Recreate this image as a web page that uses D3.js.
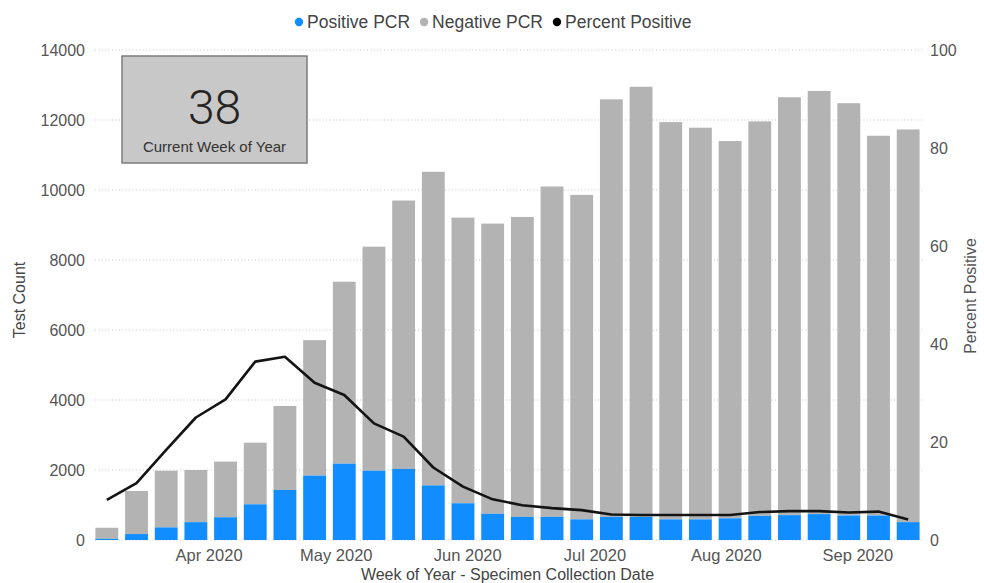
<!DOCTYPE html>
<html>
<head>
<meta charset="utf-8">
<script src="https://cdn.jsdelivr.net/npm/d3@7"></script>
<style>
	body { margin: 0; background: #fff; }
	text { font-family: 'Liberation Sans', Arial, sans-serif; }
</style>
</head>
<body>
<div id="chart"></div>
<script>
// week numbers (Sunday start), 2020
var weeks = [11, 12, 13, 14, 15, 16, 17, 18, 19, 20, 21, 22, 23, 24,
	25, 26, 27, 28, 29, 30, 31, 32, 33, 34, 35, 36, 37, 38];
var positive = [35, 170, 360, 510, 650, 1020, 1430, 1840, 2180, 1980, 2030, 1560, 1050, 750,
	660, 660, 590, 660, 660, 590, 590, 620, 690, 710, 740, 700, 700, 510];
var negative = [315, 1230, 1620, 1490, 1590, 1760, 2400, 3870, 5200, 6400, 7670, 8960, 8160, 8290,
	8570, 9440, 9270, 11930, 12290, 11350, 11190, 10780, 11270, 11940, 12090, 11780, 10850, 11220];
var percentPositive = [8.2, 11.6, 18.4, 25.0, 28.7, 36.4, 37.4, 32.1, 29.6, 23.8, 21.1, 14.8, 10.9, 8.3,
	7.1, 6.5, 6.1, 5.2, 5.1, 5.1, 5.1, 5.1, 5.7, 5.9, 5.9, 5.6, 5.8, 4.2];
var countTicks = [0, 2000, 4000, 6000, 8000, 10000, 12000, 14000];
var percentTicks = [0, 20, 40, 60, 80, 100];
var legendItems = ['Positive PCR', 'Negative PCR', 'Percent Positive'];

const WIDTH = 984;
const HEIGHT = 583;
const PLOT = { LEFT: 92, RIGHT: 923, TOP: 50, BOTTOM: 540 };
const COLORS = { pos: '#118DFF', neg: '#B3B3B3', line: '#141414' };

// Sunday of week 2 is Jan 5 2020
var week2 = new Date(Date.UTC(2020, 0, 5));
function weekDate (w) { return d3.utcWeek.offset(week2, w - 2); }

var data = weeks.map(function (w, i) {
	return { week: w, date: weekDate(w), pos: positive[i], neg: negative[i], pct: percentPositive[i] };
});

var half = 3.5 * 24 * 3600 * 1000;
var x = d3.scaleUtc()
	.domain([new Date(data[0].date - half), new Date(+data[data.length - 1].date + half)])
	.range([PLOT.LEFT, PLOT.RIGHT]);
var yCount = d3.scaleLinear().domain([0, 14000]).range([PLOT.BOTTOM, PLOT.TOP]);
var yPct = d3.scaleLinear().domain([0, 100]).range([PLOT.BOTTOM, PLOT.TOP]);
var step = x(data[1].date) - x(data[0].date);
var barW = step * 0.77;

var svg = d3.select('#chart').append('svg')
	.attr('width', WIDTH)
	.attr('height', HEIGHT);

// gridlines
svg.append('g').selectAll('line').data(countTicks).enter().append('line')
	.attr('x1', PLOT.LEFT + 3).attr('x2', PLOT.RIGHT)
	.attr('y1', function (d) { return yCount(d); })
	.attr('y2', function (d) { return yCount(d); })
	.style('stroke', '#c4c4c4')
	.style('stroke-width', 1)
	.style('stroke-dasharray', '1,2.4');

// left axis
var yAxisL = d3.axisLeft(yCount).tickValues(countTicks).tickFormat(d3.format('d')).tickSize(0).tickPadding(7);
var gL = svg.append('g').attr('transform', 'translate(' + PLOT.LEFT + ',0)').call(yAxisL);
// right axis
var yAxisR = d3.axisRight(yPct).tickValues(percentTicks).tickSize(0).tickPadding(7);
var gR = svg.append('g').attr('transform', 'translate(' + PLOT.RIGHT + ',0)').call(yAxisR);
// bottom axis
var xAxis = d3.axisBottom(x).ticks(d3.utcMonth.every(1)).tickFormat(d3.utcFormat('%b %Y')).tickSize(0).tickPadding(9);
var gX = svg.append('g').attr('transform', 'translate(0,' + PLOT.BOTTOM + ')').call(xAxis);

[gL, gR, gX].forEach(function (g) {
	g.select('.domain').remove();
	g.selectAll('text').attr('fill', '#555').style('font-size', '16px');
});
gX.selectAll('text').style('font-size', '16.5px');

// bars
var bars = svg.append('g').selectAll('g').data(data).enter().append('g');
bars.append('rect')
	.attr('x', function (d) { return x(d.date) - barW / 2; })
	.attr('width', barW)
	.attr('y', function (d) { return yCount(d.pos + d.neg); })
	.attr('height', function (d) { return yCount(d.pos) - yCount(d.pos + d.neg); })
	.attr('fill', COLORS.neg);
bars.append('rect')
	.attr('x', function (d) { return x(d.date) - barW / 2; })
	.attr('width', barW)
	.attr('y', function (d) { return yCount(d.pos); })
	.attr('height', function (d) { return yCount(0) - yCount(d.pos); })
	.attr('fill', COLORS.pos);

// percent positive line
var line = d3.line()
	.x(function (d) { return x(d.date); })
	.y(function (d) { return yPct(d.pct); });
svg.append('path')
	.datum(data)
	.attr('d', line)
	.attr('fill', 'none')
	.style('stroke', COLORS.line)
	.style('stroke-width', 2.6)
	.style('stroke-linejoin', 'round');

// axis titles
svg.append('text')
	.attr('transform', 'translate(25,' + 300 + ') rotate(-90)')
	.attr('text-anchor', 'middle')
	.attr('fill', '#444')
	.style('font-size', '16px')
	.text('Test Count');
svg.append('text')
	.attr('transform', 'translate(976,' + 296 + ') rotate(-90)')
	.attr('text-anchor', 'middle')
	.attr('fill', '#555')
	.style('font-size', '16px')
	.text('Percent Positive');
svg.append('text')
	.attr('x', (PLOT.LEFT + PLOT.RIGHT) / 2)
	.attr('y', 580)
	.attr('text-anchor', 'middle')
	.attr('fill', '#444')
	.style('font-size', '16px')
	.text('Week of Year - Specimen Collection Date');

// legend
var legend = svg.append('g');
var legendColors = [COLORS.pos, COLORS.neg, '#000'];
var lx = 299;
legendItems.forEach(function (name, i) {
	legend.append('circle')
		.attr('cx', lx).attr('cy', 22).attr('r', 4.2)
		.attr('fill', legendColors[i]);
	var t = legend.append('text')
		.attr('x', lx + 8).attr('y', 28)
		.attr('fill', '#444')
		.style('font-size', '17.5px')
		.text(name);
	lx += 8 + t.node().getComputedTextLength() + 14;
});

// current week card
var card = svg.append('g').attr('transform', 'translate(122,56)');
card.append('rect')
	.attr('width', 185).attr('height', 107)
	.attr('fill', '#c8c8c8')
	.style('stroke', '#7d7d7d')
	.style('stroke-width', 1.5);
card.append('text')
	.attr('x', 92.5).attr('y', 68)
	.attr('text-anchor', 'middle')
	.attr('fill', '#252423')
	.style('font-family', 'Roboto, sans-serif')
	.style('font-weight', 300)
	.style('font-size', '48px')
	.text(weeks[weeks.length - 1]);
card.append('text')
	.attr('x', 92.5).attr('y', 96)
	.attr('text-anchor', 'middle')
	.attr('fill', '#333')
	.style('font-size', '15px')
	.text('Current Week of Year');
</script>
</body>
</html>
